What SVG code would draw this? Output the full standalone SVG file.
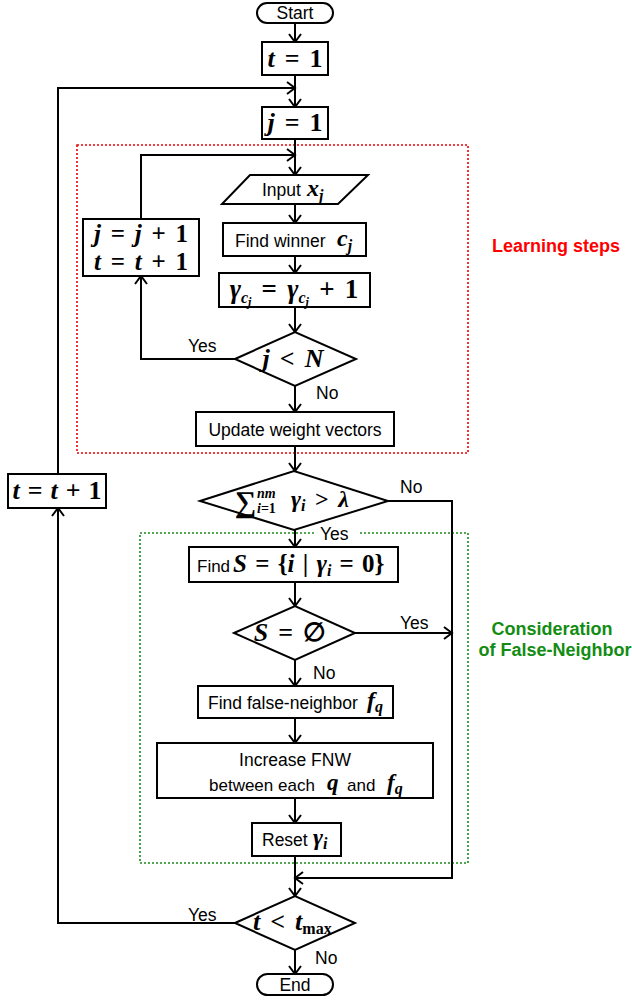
<svg xmlns="http://www.w3.org/2000/svg" width="632" height="1000" viewBox="0 0 632 1000">
<style>
.box{fill:#fff;stroke:#000;stroke-width:2}
.c{fill:none;stroke:#000;stroke-width:2}
.s{font-family:"Liberation Sans",Arial,sans-serif;font-size:17.5px;fill:#000}
.m{font-family:"Liberation Serif","DejaVu Serif",serif;font-size:26px;font-weight:bold;fill:#000;word-spacing:3.5px}
.i{font-style:italic}
.mi{font-family:"Liberation Serif","DejaVu Serif",serif;font-weight:bold;font-style:italic;font-size:24px}
.sub{font-family:"Liberation Serif","DejaVu Serif",serif;font-weight:bold;font-style:italic;font-size:16px}
.ss{font-family:"Liberation Serif","DejaVu Serif",serif;font-weight:bold;font-style:italic;font-size:12px}
.lab{font-family:"Liberation Sans",Arial,sans-serif;font-size:18px;font-weight:bold}
</style>
<defs>
<marker id="ar" markerUnits="userSpaceOnUse" markerWidth="20" markerHeight="20" refX="10" refY="10" orient="auto" overflow="visible">
<path d="M2,4 L10,10 L2,16" fill="none" stroke="#000" stroke-width="2"/>
</marker>
</defs>
<rect x="77" y="145" width="391" height="308" fill="none" stroke="#e00" stroke-width="1.6" stroke-dasharray="2,2"/>
<rect x="140" y="533" width="328" height="330" fill="none" stroke="#1a8a1a" stroke-width="1.6" stroke-dasharray="2,2"/>
<text class="lab" x="556" y="252" text-anchor="middle" fill="#ff0000">Learning steps</text>
<text class="lab" x="552" y="635" text-anchor="middle" fill="#128c12">Consideration</text>
<text class="lab" x="555" y="656" text-anchor="middle" fill="#128c12">of False-Neighbor</text>
<g id="connectors">
<path class="c" d="M295,23 V42" marker-end="url(#ar)"/>
<path class="c" d="M295,75 V107" marker-end="url(#ar)"/>
<path class="c" d="M235,923 H58 V508" marker-end="url(#ar)"/>
<path class="c" d="M58,474 V88 H295" marker-end="url(#ar)"/>
<path class="c" d="M295,139 V175" marker-end="url(#ar)"/>
<path class="c" d="M141,220 V155 H295" marker-end="url(#ar)"/>
<path class="c" d="M295,204 V223" marker-end="url(#ar)"/>
<path class="c" d="M295,256 V273" marker-end="url(#ar)"/>
<path class="c" d="M295,307 V332" marker-end="url(#ar)"/>
<path class="c" d="M235,359 H141 V276" marker-end="url(#ar)"/>
<path class="c" d="M295,386 V412" marker-end="url(#ar)"/>
<path class="c" d="M295,446 V471" marker-end="url(#ar)"/>
<path class="c" d="M388,501 H452 V878 H295" marker-end="url(#ar)"/>
<path class="c" d="M295,530 V547" marker-end="url(#ar)"/>
<path class="c" d="M295,582 V606" marker-end="url(#ar)"/>
<path class="c" d="M355,633 H452" marker-end="url(#ar)"/>
<path class="c" d="M295,660 V686" marker-end="url(#ar)"/>
<path class="c" d="M295,718 V743" marker-end="url(#ar)"/>
<path class="c" d="M295,798 V823" marker-end="url(#ar)"/>
<path class="c" d="M295,856 V896" marker-end="url(#ar)"/>
<path class="c" d="M295,950 V974" marker-end="url(#ar)"/>
<text class="s" x="188" y="352">Yes</text>
<text class="s" x="316" y="399">No</text>
<text class="s" x="400" y="493">No</text>
<rect x="314" y="525" width="44" height="17" fill="#fff"/>
<text class="s" x="320" y="540">Yes</text>
<text class="s" x="400" y="629">Yes</text>
<text class="s" x="313" y="679">No</text>
<text class="s" x="188" y="921">Yes</text>
<text class="s" x="315" y="964">No</text>
</g>
<g id="start"><rect class="box" x="257" y="3" width="76" height="20" rx="10"/><text class="s" x="295" y="19" text-anchor="middle">Start</text></g>
<g id="t1"><rect class="box" x="262" y="42" width="66" height="33"/><text class="m" x="295" y="67" text-anchor="middle"><tspan class="i">t</tspan> = 1</text></g>
<g id="j1"><rect class="box" x="262" y="107" width="66" height="32"/><text class="m" x="295" y="131" text-anchor="middle"><tspan class="i">j</tspan> = 1</text></g>
<g id="input"><polygon class="box" points="250,175 368,175 338,204 222,204"/><text class="s" x="262" y="196">Input</text><text class="mi" x="307" y="196">x<tspan class="sub" dy="5">j</tspan></text></g>
<g id="winner"><rect class="box" x="223" y="223" width="143" height="33"/><text class="s" x="235" y="247">Find winner</text><text class="mi" x="337" y="246">c<tspan class="sub" dy="5">j</tspan></text></g>
<g id="gamma"><rect class="box" x="219" y="273" width="151" height="34"/><text class="m" x="294" y="298" text-anchor="middle" style="font-size:27px"><tspan class="i">γ</tspan><tspan class="sub" dy="5">c</tspan><tspan class="ss" dy="3">j</tspan><tspan dy="-8"> = </tspan><tspan class="i">γ</tspan><tspan class="sub" dy="5">c</tspan><tspan class="ss" dy="3">j</tspan><tspan dy="-8"> + 1</tspan></text></g>
<g id="jupd"><rect class="box" x="83" y="219" width="116" height="57"/><text class="m" x="141" y="242" text-anchor="middle" style="font-size:25px"><tspan class="i">j</tspan> = <tspan class="i">j</tspan> + 1</text><text class="m" x="141" y="270" text-anchor="middle" style="font-size:25px"><tspan class="i">t</tspan> = <tspan class="i">t</tspan> + 1</text></g>
<g id="jltN"><polygon class="box" points="235,359 295,332 356,359 295,386"/><text class="m" x="293" y="367" text-anchor="middle"><tspan class="i">j</tspan> &lt; <tspan class="i">N</tspan></text></g>
<g id="update"><rect class="box" x="196" y="412" width="198" height="34"/><text class="s" x="295" y="436" text-anchor="middle">Update weight vectors</text></g>
<g id="sum"><polygon class="box" points="200,501 294,471 388,501 294,530"/><text class="m" x="235" y="512" style="font-size:30px">∑</text><text class="ss" x="257" y="498" style="font-size:14px">nm</text><text class="ss" x="257" y="513" style="font-size:14px">i<tspan style="font-style:normal">=1</tspan></text><text class="m" x="291" y="507" style="font-size:24px"><tspan class="i">γ</tspan><tspan class="sub" dy="4">i</tspan><tspan dy="-4"> &gt; </tspan><tspan class="i">λ</tspan></text></g>
<g id="tinc"><rect class="box" x="8" y="474" width="98" height="34"/><text class="m" x="57" y="499" text-anchor="middle" style="word-spacing:1.5px"><tspan class="i">t</tspan> = <tspan class="i">t</tspan> + 1</text></g>
<g id="findS"><rect class="box" x="189" y="547" width="209" height="35"/><text class="s" x="197" y="572" style="font-size:17px">Find</text><text class="m" x="233" y="572" style="font-size:25px;word-spacing:2px"><tspan class="i">S</tspan> = {<tspan class="i">i</tspan> | <tspan class="i">γ</tspan><tspan class="sub" dy="4">i</tspan><tspan dy="-4"> = 0}</tspan></text></g>
<g id="Sempty"><polygon class="box" points="234,633 295,606 355,633 295,660"/><text class="m" x="290" y="641" text-anchor="middle"><tspan class="i">S</tspan> = ∅</text></g>
<g id="findfn"><rect class="box" x="198" y="686" width="195" height="32"/><text class="s" x="208" y="709">Find false-neighbor</text><text class="mi" x="367" y="708">f<tspan class="sub" dy="4">q</tspan></text></g>
<g id="increase"><rect class="box" x="157" y="743" width="276" height="55"/><text class="s" x="295" y="766" text-anchor="middle">Increase FNW</text><text class="s" x="209" y="791" style="font-size:17px">between each</text><text class="mi" x="327" y="790" style="font-size:23px">q</text><text class="s" x="347" y="791" style="font-size:17px">and</text><text class="mi" x="387" y="790" style="font-size:23px">f<tspan class="sub" dy="4">q</tspan></text></g>
<g id="reset"><rect class="box" x="252" y="823" width="89" height="33"/><text class="s" x="262" y="846">Reset</text><text class="mi" x="313" y="845">γ<tspan class="sub" dy="4">i</tspan></text></g>
<g id="tmax"><polygon class="box" points="235,923 295,896 355,923 295,950"/><text class="m" x="253" y="930"><tspan class="i">t</tspan> &lt; <tspan class="i">t</tspan><tspan class="sub" dy="4" style="font-style:normal">max</tspan></text></g>
<g id="end"><rect class="box" x="257" y="974" width="76" height="21" rx="10.5"/><text class="s" x="295" y="991" text-anchor="middle">End</text></g>
</svg>
